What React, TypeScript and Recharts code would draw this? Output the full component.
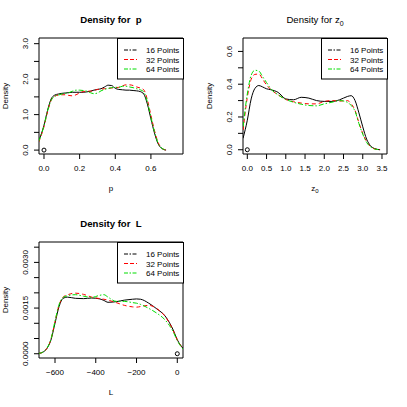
import React from 'react';
import { ComposedChart, Line, Scatter, XAxis, YAxis, ReferenceArea, Legend } from 'recharts';

const FONT = 'Liberation Sans, Arial, Helvetica, sans-serif';

// ---- Density for p ----
const P_X = [-0.03, 0, 0.02, 0.04, 0.06, 0.08, 0.1, 0.12, 0.14, 0.16, 0.18, 0.2, 0.22, 0.24, 0.26, 0.28, 0.3, 0.32, 0.34, 0.36, 0.38, 0.4, 0.42, 0.44, 0.46, 0.48, 0.5, 0.52, 0.54, 0.56, 0.58, 0.6, 0.62, 0.64, 0.66, 0.685];
const P_16 = [0.25, 0.7, 1.12, 1.44, 1.55, 1.58, 1.6, 1.61, 1.62, 1.63, 1.63, 1.63, 1.63, 1.64, 1.66, 1.69, 1.71, 1.73, 1.78, 1.83, 1.82, 1.74, 1.71, 1.7, 1.69, 1.69, 1.68, 1.67, 1.65, 1.58, 1.3, 0.88, 0.48, 0.18, 0.05, 0];
const P_32 = [0.22, 0.66, 1.08, 1.4, 1.52, 1.55, 1.56, 1.56, 1.54, 1.53, 1.56, 1.61, 1.65, 1.66, 1.66, 1.68, 1.71, 1.72, 1.73, 1.74, 1.75, 1.76, 1.77, 1.81, 1.84, 1.84, 1.82, 1.78, 1.75, 1.7, 1.42, 0.98, 0.55, 0.22, 0.06, 0];
const P_64 = [0.24, 0.68, 1.1, 1.4, 1.52, 1.55, 1.58, 1.6, 1.62, 1.66, 1.69, 1.69, 1.68, 1.66, 1.62, 1.59, 1.61, 1.67, 1.71, 1.74, 1.76, 1.77, 1.77, 1.8, 1.8, 1.78, 1.76, 1.73, 1.7, 1.64, 1.36, 0.93, 0.52, 0.2, 0.06, 0];
const P_XTICKS = [0, 0.2, 0.4, 0.6];
const P_XLABELS = ['0.0', '0.2', '0.4', '0.6'];
const P_YTICKS = [0, 0.5, 1, 1.5, 2, 2.5, 3];
const P_YLABELS = ['0.0', '', '1.0', '', '2.0', '', '3.0'];

// ---- Density for z0 ----
const Z_X = [-0.11, 0, 0.1, 0.2, 0.3, 0.4, 0.5, 0.6, 0.8, 1.0, 1.2, 1.4, 1.6, 1.8, 2.0, 2.2, 2.4, 2.6, 2.7, 2.8, 2.9, 3.0, 3.1, 3.2, 3.3, 3.45];
const Z_16 = [0.07, 0.18, 0.31, 0.375, 0.392, 0.383, 0.372, 0.367, 0.35, 0.31, 0.305, 0.32, 0.315, 0.3, 0.295, 0.295, 0.305, 0.325, 0.33, 0.3, 0.225, 0.14, 0.065, 0.025, 0.008, 0];
const Z_32 = [0.12, 0.32, 0.43, 0.46, 0.462, 0.43, 0.395, 0.37, 0.335, 0.307, 0.293, 0.285, 0.28, 0.28, 0.295, 0.3, 0.297, 0.3, 0.28, 0.24, 0.165, 0.1, 0.05, 0.02, 0.006, 0];
const Z_64 = [0.14, 0.34, 0.455, 0.485, 0.48, 0.445, 0.41, 0.375, 0.335, 0.307, 0.29, 0.278, 0.27, 0.268, 0.28, 0.29, 0.3, 0.29, 0.27, 0.235, 0.16, 0.095, 0.045, 0.018, 0.005, 0];
const Z_XTICKS = [0, 0.5, 1, 1.5, 2, 2.5, 3, 3.5];
const Z_XLABELS = ['0.0', '0.5', '1.0', '1.5', '2.0', '2.5', '3.0', '3.5'];
const Z_YTICKS = [0, 0.1, 0.2, 0.3, 0.4, 0.5, 0.6];
const Z_YLABELS = ['0.0', '', '0.2', '', '0.4', '', '0.6'];

// ---- Density for L ----
const L_X = [-680, -660, -640, -620, -600, -580, -560, -540, -500, -460, -420, -380, -360, -340, -300, -260, -220, -200, -180, -140, -100, -60, -20, 0, 30];
const L_16 = [0.00001, 0.00005, 0.00017, 0.00045, 0.001, 0.00155, 0.00182, 0.00186, 0.00182, 0.00181, 0.00183, 0.0018, 0.00175, 0.00169, 0.00171, 0.00176, 0.00179, 0.0018, 0.00179, 0.00166, 0.00147, 0.00124, 0.00078, 0.00046, 0.00016];
const L_32 = [0.00001, 0.00005, 0.00017, 0.00047, 0.00105, 0.0016, 0.00186, 0.00193, 0.00199, 0.00195, 0.00186, 0.00181, 0.00179, 0.00176, 0.00168, 0.00159, 0.00154, 0.00153, 0.00155, 0.00159, 0.00148, 0.00123, 0.00076, 0.00045, 0.00015];
const L_64 = [0.00001, 0.00005, 0.00018, 0.00048, 0.00107, 0.00162, 0.00185, 0.0019, 0.00194, 0.00189, 0.00185, 0.00192, 0.00194, 0.00186, 0.00172, 0.00172, 0.00168, 0.00166, 0.00162, 0.00149, 0.00133, 0.00111, 0.00072, 0.00043, 0.00014];
const L_XTICKS = [-600, -400, -200, 0];
const L_XLABELS = ['\u2212600', '\u2212400', '\u2212200', '0'];
const L_YTICKS = [0, 0.0005, 0.001, 0.0015, 0.002, 0.0025, 0.003, 0.0035];
const L_YLABELS = ['0.0000', '', '', '0.0015', '', '', '0.0030', ''];

// true value marker
const MARK_P = [{ x: 0, y: 0 }];
const MARK_Z = [{ x: 0, y: 0 }];
const MARK_L = [{ x: 0, y: 0 }];

const SERIES = [
  { key: 's16', name: '16 Points', color: '#000000', dash: undefined, legendDash: '4 1.5 1.5 1.5' },
  { key: 's32', name: '32 Points', color: '#ff0000', dash: '4 3', legendDash: '4 2' },
  { key: 's64', name: '64 Points', color: '#00dd00', dash: '5 2 1.5 2', legendDash: '4 1.5 1.5 1.5' },
];

const rows = (xs: number[], a: number[], b: number[], c: number[]) =>
  xs.map((x, i) => ({ x, s16: a[i], s32: b[i], s64: c[i] }));

function LegendBox() {
  return (
    <svg width={67} height={42} style={{ display: 'block' }}>
      <rect x={0.5} y={0.5} width={66} height={40.5} fill="#fff" stroke="#000" />
      {SERIES.map((s, i) => (
        <g key={s.key}>
          <line x1={7} x2={20} y1={12 + i * 9.5} y2={12 + i * 9.5} stroke={s.color} strokeDasharray={s.legendDash} />
          <text x={29} y={15 + i * 9.5} fontSize={8} fontFamily={FONT} fill="#000">{s.name}</text>
        </g>
      ))}
    </svg>
  );
}

type PanelProps = {
  left: number;
  top: number;
  data: any[];
  mark: { x: number; y: number }[];
  xDomain: [number, number];
  yDomain: [number, number];
  xTicks: number[];
  xLabels: string[];
  yTicks: number[];
  yLabels: string[];
  title: React.ReactNode;
  bold: boolean;
  xLabel: React.ReactNode;
};

function Panel(p: PanelProps) {
  const XTick = (props: any) => {
    const i = p.xTicks.indexOf(props.payload.value);
    return (
      <text x={props.x} y={170.7} textAnchor="middle" fontSize={8} fontFamily={FONT} fill="#000">
        {p.xLabels[i]}
      </text>
    );
  };
  const YTick = (props: any) => {
    const i = p.yTicks.indexOf(props.payload.value);
    const lbl = p.yLabels[i];
    if (!lbl) return <g />;
    return (
      <text x={28.3} y={props.y} transform={`rotate(-90 28.3 ${props.y})`} textAnchor="middle" fontSize={8} fontFamily={FONT} fill="#000">
        {lbl}
      </text>
    );
  };
  return (
    <div style={{ position: 'absolute', left: p.left, top: p.top, width: 204, height: 204 }}>
      <ComposedChart width={204} height={204} data={p.data} margin={{ top: 38, right: 21, bottom: 20, left: 0 }}>
        <XAxis
          type="number"
          dataKey="x"
          domain={p.xDomain}
          ticks={p.xTicks}
          interval={0}
          allowDataOverflow
          axisLine={false}
          tickLine={{ stroke: '#000' }}
          tickSize={5}
          height={30}
          tick={XTick}
        />
        <YAxis
          type="number"
          domain={p.yDomain}
          ticks={p.yTicks}
          interval={0}
          allowDataOverflow
          axisLine={false}
          tickLine={{ stroke: '#000' }}
          tickSize={5}
          width={39}
          tick={YTick}
        />
        {SERIES.map((s) => (
          <Line
            key={s.key}
            type="monotone"
            dataKey={s.key}
            stroke={s.color}
            strokeWidth={1}
            strokeDasharray={s.dash}
            dot={false}
            activeDot={false}
            isAnimationActive={false}
          />
        ))}
        <Scatter
          data={p.mark}
          dataKey="y"
          isAnimationActive={false}
          shape={(sp: any) => <circle cx={sp.cx} cy={sp.cy} r={2} fill="none" stroke="#000" />}
        />
        <ReferenceArea
          x1={p.xDomain[0]}
          x2={p.xDomain[1]}
          y1={p.yDomain[0]}
          y2={p.yDomain[1]}
          fill="none"
          stroke="#000"
          strokeWidth={1}
          ifOverflow="visible"
        />
        <Legend
          layout="horizontal"
          verticalAlign="middle"
          align="center"
          wrapperStyle={{ position: 'absolute', left: 117, top: 38, width: 67, height: 42, margin: 0 }}
          content={() => <LegendBox />}
        />
      </ComposedChart>
      <svg width={204} height={204} style={{ position: 'absolute', left: 0, top: 0, pointerEvents: 'none' }}>
        <text x={111} y={23} textAnchor="middle" fontSize={9.6} fontWeight={p.bold ? 'bold' : 'normal'} fontFamily={FONT} style={{ whiteSpace: 'pre' }}>
          {p.title}
        </text>
        <text x={111} y={190.5} textAnchor="middle" fontSize={8} fontFamily={FONT}>
          {p.xLabel}
        </text>
        <text x={8} y={96} transform="rotate(-90 8 96)" textAnchor="middle" fontSize={8} fontFamily={FONT}>
          Density
        </text>
      </svg>
    </div>
  );
}

export default function App() {
  return (
    <div style={{ position: 'absolute', left: 0, top: 0, width: 407, height: 407, background: '#fff' }}>
      <Panel
        left={0}
        top={0}
        data={rows(P_X, P_16, P_32, P_64)}
        mark={MARK_P}
        xDomain={[-0.028, 0.78]}
        yDomain={[-0.11, 3.16]}
        xTicks={P_XTICKS}
        xLabels={P_XLABELS}
        yTicks={P_YTICKS}
        yLabels={P_YLABELS}
        title="Density for  p"
        bold
        xLabel="p"
      />
      <Panel
        left={204}
        top={0}
        data={rows(Z_X, Z_16, Z_32, Z_64)}
        mark={MARK_Z}
        xDomain={[-0.112, 3.63]}
        yDomain={[-0.026, 0.682]}
        xTicks={Z_XTICKS}
        xLabels={Z_XLABELS}
        yTicks={Z_YTICKS}
        yLabels={Z_YLABELS}
        title={<><tspan>Density for z</tspan><tspan dy={2.5} fontSize={7}>0</tspan></>}
        bold={false}
        xLabel={<><tspan>z</tspan><tspan dy={2} fontSize={6}>0</tspan></>}
      />
      <Panel
        left={0}
        top={204}
        data={rows(L_X, L_16, L_32, L_64)}
        mark={MARK_L}
        xDomain={[-678.5, 28]}
        yDomain={[-0.00014, 0.00367]}
        xTicks={L_XTICKS}
        xLabels={L_XLABELS}
        yTicks={L_YTICKS}
        yLabels={L_YLABELS}
        title="Density for  L"
        bold
        xLabel="L"
      />
    </div>
  );
}
